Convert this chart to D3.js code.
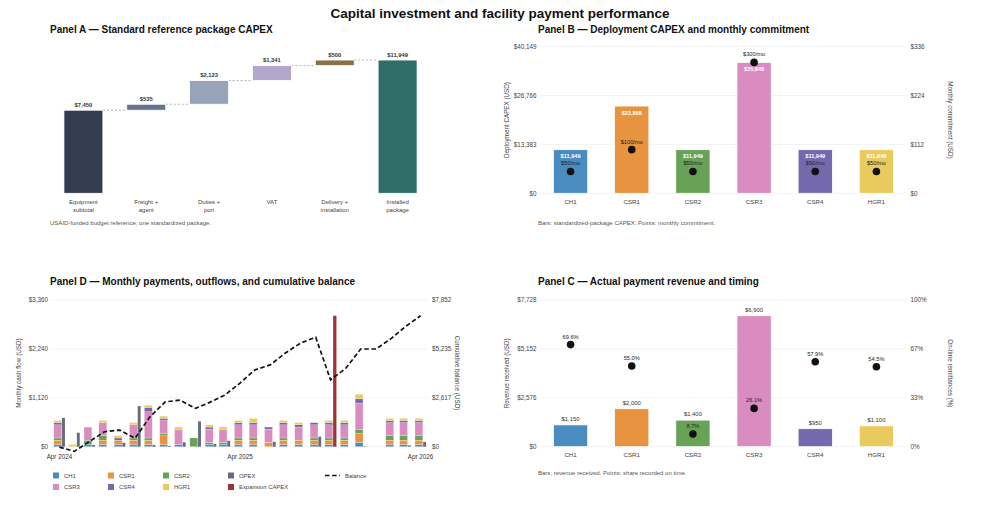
<!DOCTYPE html>
<html><head><meta charset="utf-8">
<script src="https://cdn.jsdelivr.net/npm/d3@7/dist/d3.min.js"></script>
<style>body{margin:0;background:#fff}svg{font-family:"Liberation Sans",Arial,Helvetica,sans-serif}</style>
</head><body><svg id="c" width="1000" height="510"></svg>
<script>
// ---------- DATA ----------
const wfCategories = ["Equipment subtotal","Freight + agent","Duties + port","VAT","Delivery + installation","Installed package"];
const wfLabelLines = [["Equipment","subtotal"],["Freight +","agent"],["Duties +","port"],["VAT"],["Delivery +","installation"],["Installed","package"]];
const wfValues = [7450,535,2123,1341,500,11949];
const wfColors = ["#343c50","#66728a","#97a3b8","#b5a6cb","#8b7047","#2f6e68"];

const sites = ["CH1","CSR1","CSR2","CSR3","CSR4","HGR1"];
const siteColors = ["#4a8bc0","#e8933f","#68a257","#da8bbf","#7569ae","#e9ca5c"];
const capexValues = [11949,23898,11949,35848,11949,11949];
const commitValues = [50,100,50,300,50,50];
const revenueValues = [1150,2000,1400,6900,950,1100];
const onTimePct = [69.6,55.0,8.7,26.1,57.9,54.5];

const capexTicks = [0,13383,26766,40149];
const commitTicks = [0,112,224,336];
const revenueTicks = [0,2576,5152,7728];
const pctTicks = [0,100/3,200/3,100];
const cashTicks = [0,1120,2240,3360];
const balanceTicks = [0,2617,5235,7852];

const months = ["2024-04","2024-05","2024-06","2024-07","2024-08","2024-09","2024-10","2024-11","2024-12",
  "2025-01","2025-02","2025-03","2025-04","2025-05","2025-06","2025-07","2025-08","2025-09","2025-10",
  "2025-11","2025-12","2026-01","2026-02","2026-03","2026-04"];
const payCH1  = [50,0,50,50,50,50,50,50,50,0,50,50,50,50,0,50,50,50,50,50,100,0,50,50,50];
const payCSR1 = [100,0,0,100,100,100,100,200,0,0,0,0,100,100,100,100,100,100,100,100,200,0,100,100,100];
const payCSR2 = [50,0,100,100,0,50,50,50,0,200,50,50,50,50,0,50,0,50,50,50,100,0,100,100,100];
const payCSR3 = [300,0,300,300,0,300,600,300,350,0,300,300,300,300,300,300,300,300,300,300,600,0,300,300,300];
const payCSR4 = [50,0,0,0,50,0,100,50,0,0,50,0,50,50,50,50,50,50,50,50,100,0,50,50,50];
const payHGR1 = [50,50,0,50,50,50,50,50,50,0,50,50,50,100,0,50,50,0,50,50,100,0,50,50,50];
const opex    = [660,320,40,0,90,930,40,20,100,580,60,136,0,0,110,0,0,230,0,0,10,0,0,30,110];
const expansionCapex = [0,0,0,0,0,0,0,0,0,0,0,0,0,0,0,0,0,0,3000,0,0,0,0,0,0];
const balance = [-20,-250,280,800,890,450,1600,2400,2490,2050,2400,2760,3400,4110,4380,5000,5540,5860,3580,4200,5230,5230,5800,6420,7010];

// ---------- HELPERS ----------
const svg = d3.select("#c");
const usd = v => "$" + d3.format(",")(Math.round(v));
const TXT = "#444", GRID = "#efefef";

svg.append("text").attr("x",500).attr("y",18).attr("text-anchor","middle")
  .attr("font-size",13.5).attr("font-weight","bold").attr("fill","#111")
  .text("Capital investment and facility payment performance");

function title(x,y,t){
  svg.append("text").attr("x",x).attr("y",y).attr("font-size",10).attr("font-weight","bold").attr("fill","#111").text(t);
}
function note(x,y,t){
  svg.append("text").attr("x",x).attr("y",y).attr("font-size",6).attr("fill","#555").text(t);
}
function grid(g,ys,ticks,x0,x1){
  g.selectAll(null).data(ticks).join("line")
    .attr("x1",x0).attr("x2",x1).attr("y1",d=>ys(d)).attr("y2",d=>ys(d))
    .attr("stroke",GRID).attr("stroke-width",0.8);
}
function leftAxis(g,ys,ticks,x,fmt){
  g.selectAll(null).data(ticks).join("text")
    .attr("x",x).attr("y",d=>ys(d)).attr("dy","0.35em").attr("text-anchor","end")
    .attr("font-size",6.3).attr("fill",TXT).text(fmt);
}
function rightAxis(g,ys,ticks,x,fmt){
  g.selectAll(null).data(ticks).join("text")
    .attr("x",x).attr("y",d=>ys(d)).attr("dy","0.35em").attr("text-anchor","start")
    .attr("font-size",6.3).attr("fill",TXT).text(fmt);
}
function axisTitle(x,y,rot,t){
  svg.append("text").attr("transform",`translate(${x},${y}) rotate(${rot})`).attr("text-anchor","middle")
    .attr("font-size",6.3).attr("fill",TXT).text(t);
}

// ---------- PANEL A ----------
title(50,33,"Panel A \u2014 Standard reference package CAPEX");
{
  const g = svg.append("g");
  const x = d3.scaleBand().domain(wfCategories).range([52,429]).paddingInner(0.38).paddingOuter(0.19);
  const y = d3.scaleLinear().domain([0, d3.max(wfValues)*1.1]).range([193.3,46.7]);
  let cum = 0;
  const rows = wfCategories.map((c,i)=>{
    const last = i === wfCategories.length-1;
    const r = last ? {c, y0:0, y1:wfValues[i], v:wfValues[i]} : {c, y0:cum, y1:cum+wfValues[i], v:wfValues[i]};
    if(!last) cum += wfValues[i];
    return r;
  });
  rows.slice(0,-1).forEach((r,i)=>{
    g.append("line").attr("x1",x(r.c)+x.bandwidth()).attr("x2",x(rows[i+1].c))
      .attr("y1",y(r.y1)).attr("y2",y(r.y1)).attr("stroke","#aaa").attr("stroke-width",0.9).attr("stroke-dasharray","2,2");
  });
  g.selectAll(null).data(rows).join("rect")
    .attr("x",d=>x(d.c)).attr("width",x.bandwidth())
    .attr("y",d=>y(d.y1)).attr("height",d=>y(d.y0)-y(d.y1))
    .attr("fill",(d,i)=>wfColors[i]).attr("stroke","#fff").attr("stroke-width",0.8);
  g.selectAll(null).data(rows).join("text")
    .attr("x",d=>x(d.c)+x.bandwidth()/2).attr("y",d=>y(d.y1)-3.5).attr("text-anchor","middle")
    .attr("font-size",5.8).attr("font-weight","bold").attr("fill","#333").text(d=>usd(d.v));
  wfCategories.forEach((c,i)=>{
    wfLabelLines[i].forEach((ln,j)=>{
      g.append("text").attr("x",x(c)+x.bandwidth()/2).attr("y",204+j*7.6).attr("text-anchor","middle")
        .attr("font-size",6).attr("fill",TXT).text(ln);
    });
  });
  note(50,224.5,"USAID-funded budget reference; one standardized package.");
}

// ---------- PANEL B & C ----------
function siteBarPanel(top, opts){
  const g = svg.append("g");
  const y0 = top ? 193.3 : 446.7, y1 = top ? 46.7 : 300;
  const x = d3.scaleBand().domain(sites).range([540,907]).paddingInner(0.44).paddingOuter(0.22);
  const yl = d3.scaleLinear().domain([0, d3.max(opts.lTicks)]).range([y0,y1]);
  const yr = d3.scaleLinear().domain([0, d3.max(opts.rTicks)]).range([y0,y1]);
  grid(g,yl,opts.lTicks,540,907);
  leftAxis(g,yl,opts.lTicks,536.5,usd);
  rightAxis(g,yr,opts.rTicks,910.5,opts.rFmt);
  axisTitle(509,(y0+y1)/2,-90,opts.lTitle);
  axisTitle(948,(y0+y1)/2,90,opts.rTitle);
  g.selectAll(null).data(sites).join("rect")
    .attr("x",d=>x(d)).attr("width",x.bandwidth())
    .attr("y",(d,i)=>yl(opts.bars[i])).attr("height",(d,i)=>y0-yl(opts.bars[i]))
    .attr("fill",(d,i)=>siteColors[i]).attr("stroke","#fff").attr("stroke-width",0.8);
  if(opts.inside){
    g.selectAll(null).data(sites).join("text")
      .attr("x",d=>x(d)+x.bandwidth()/2).attr("y",(d,i)=>yl(opts.bars[i])+8.5).attr("text-anchor","middle")
      .attr("font-size",5.6).attr("font-weight","bold").attr("fill","#fff").text((d,i)=>usd(opts.bars[i]));
  } else {
    g.selectAll(null).data(sites).join("text")
      .attr("x",d=>x(d)+x.bandwidth()/2).attr("y",(d,i)=>yl(opts.bars[i])-4).attr("text-anchor","middle")
      .attr("font-size",5.9).attr("fill","#333").text((d,i)=>usd(opts.bars[i]));
  }
  g.selectAll(null).data(sites).join("circle")
    .attr("cx",d=>x(d)+x.bandwidth()/2).attr("cy",(d,i)=>yr(opts.pts[i])).attr("r",3.8).attr("fill","#111");
  g.selectAll(null).data(sites).join("text")
    .attr("x",d=>x(d)+x.bandwidth()/2).attr("y",(d,i)=>yr(opts.pts[i])-6).attr("text-anchor","middle")
    .attr("font-size",5.7).attr("fill","#222").text((d,i)=>opts.ptFmt(opts.pts[i]));
  g.selectAll(null).data(sites).join("text")
    .attr("x",d=>x(d)+x.bandwidth()/2).attr("y",y0+10.5).attr("text-anchor","middle")
    .attr("font-size",6.2).attr("fill",TXT).text(d=>d);
}
title(538,33,"Panel B \u2014 Deployment CAPEX and monthly commitment");
siteBarPanel(true,{bars:capexValues, pts:commitValues, lTicks:capexTicks, rTicks:commitTicks,
  rFmt:usd, lTitle:"Deployment CAPEX (USD)", rTitle:"Monthly commitment (USD)", inside:true,
  ptFmt:v=>"$"+v+"/mo"});
note(538,224.5,"Bars: standardized-package CAPEX. Points: monthly commitment.");

title(538,284.5,"Panel C \u2014 Actual payment revenue and timing");
siteBarPanel(false,{bars:revenueValues, pts:onTimePct, lTicks:revenueTicks, rTicks:pctTicks,
  rFmt:v=>Math.round(v)+"%", lTitle:"Revenue received (USD)", rTitle:"On-time remittances (%)", inside:false,
  ptFmt:v=>v.toFixed(1)+"%"});
note(538,474.5,"Bars: revenue received. Points: share recorded on time.");

// ---------- PANEL D ----------
title(50,284.5,"Panel D \u2014 Monthly payments, outflows, and cumulative balance");
{
  const g = svg.append("g");
  const parse = d3.timeParse("%Y-%m");
  const dates = months.map(parse);
  const x = d3.scaleTime().domain([new Date(2024,2,17), new Date(2026,3,16)]).range([52,428]);
  const yl = d3.scaleLinear().domain([0,d3.max(cashTicks)]).range([446.7,300]);
  const yr = d3.scaleLinear().domain([0,d3.max(balanceTicks)]).range([446.7,300]);
  grid(g,yl,cashTicks,52,428);
  leftAxis(g,yl,cashTicks,48,usd);
  rightAxis(g,yr,balanceTicks,432,usd);
  axisTitle(21,373,-90,"Monthly cash flow (USD)");
  axisTitle(455,373,90,"Cumulative balance (USD)");

  const pays = [payCH1,payCSR1,payCSR2,payCSR3,payCSR4,payHGR1];
  const table = months.map((m,i)=>{
    const o = {date:dates[i], opex:opex[i], exp:expansionCapex[i], bal:balance[i]};
    sites.forEach((s,k)=>o[s]=pays[k][i]);
    return o;
  });
  const stack = d3.stack().keys(sites)(table);
  const payW = 7.9, outW = 2.9;
  stack.forEach((layer,k)=>{
    g.selectAll(null).data(layer.filter(d=>d[1]-d[0]>0)).join("rect")
      .attr("x",d=>x(d.data.date)-5.6).attr("width",payW)
      .attr("y",d=>yl(d[1])).attr("height",d=>yl(d[0])-yl(d[1]))
      .attr("fill",siteColors[k]).attr("stroke","#fff").attr("stroke-width",0.25);
  });
  g.selectAll(null).data(table.filter(d=>d.opex>0)).join("rect")
    .attr("x",d=>x(d.date)+2.6).attr("width",outW)
    .attr("y",d=>yl(d.opex)).attr("height",d=>yl(0)-yl(d.opex)).attr("fill","#676b7a");
  g.selectAll(null).data(table.filter(d=>d.exp>0)).join("rect")
    .attr("x",d=>x(d.date)+2.6).attr("width",outW+0.4)
    .attr("y",d=>yl(d.opex+d.exp)).attr("height",d=>yl(d.opex)-yl(d.opex+d.exp)).attr("fill","#9c3434");
  const line = d3.line().x(d=>x(d.date)).y(d=>yr(d.bal));
  g.append("path").datum(table).attr("d",line).attr("fill","none").attr("stroke","#111")
    .attr("stroke-width",1.7).attr("stroke-dasharray","4.5,2.6");
  const xt = [new Date(2024,3,1), new Date(2025,3,1), new Date(2026,3,1)];
  g.selectAll(null).data(xt).join("text").attr("x",d=>x(d)).attr("y",459).attr("text-anchor","middle")
    .attr("font-size",6.3).attr("fill","#333").text(d3.timeFormat("%b %Y"));

  const legend = [
    {t:"CH1",c:siteColors[0],x:53,y:475.5},{t:"CSR1",c:siteColors[1],x:108,y:475.5},
    {t:"CSR2",c:siteColors[2],x:163,y:475.5},{t:"OPEX",c:"#676b7a",x:228,y:475.5},
    {t:"CSR3",c:siteColors[3],x:53,y:487},{t:"CSR4",c:siteColors[4],x:108,y:487},
    {t:"HGR1",c:siteColors[5],x:163,y:487},{t:"Expansion CAPEX",c:"#9c3434",x:228,y:487}];
  legend.forEach(l=>{
    g.append("rect").attr("x",l.x).attr("y",l.y-3).attr("width",6).attr("height",6).attr("fill",l.c);
    g.append("text").attr("x",l.x+11).attr("y",l.y).attr("dy","0.35em").attr("font-size",5.9).attr("fill",TXT).text(l.t);
  });
  g.append("line").attr("x1",325).attr("x2",340).attr("y1",475.5).attr("y2",475.5)
    .attr("stroke","#111").attr("stroke-width",1.7).attr("stroke-dasharray","4.5,2.6");
  g.append("text").attr("x",345).attr("y",475.5).attr("dy","0.35em").attr("font-size",5.9).attr("fill",TXT).text("Balance");
}
</script></body></html>
